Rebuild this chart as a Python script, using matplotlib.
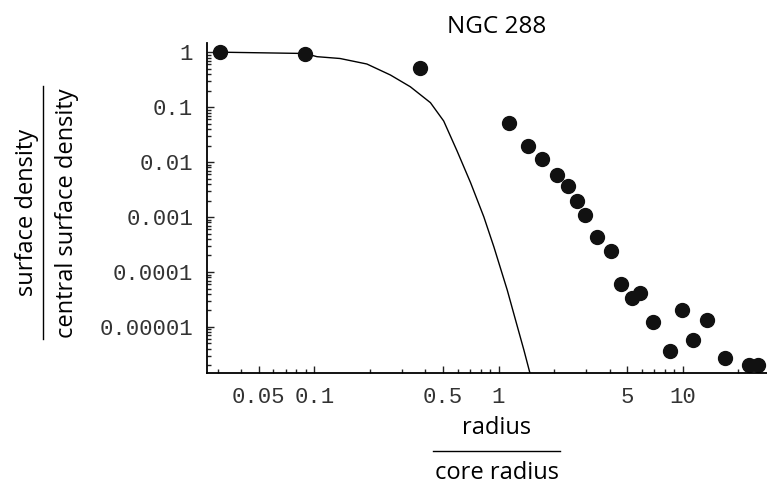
import numpy as np
import matplotlib
matplotlib.use("Agg")
import matplotlib.pyplot as plt
from matplotlib.lines import Line2D
from matplotlib.ticker import FixedLocator, FixedFormatter, NullFormatter

# measured profile of NGC 288 (radius / core radius, normalised surface density)
radius = [0.0308, 0.0893, 0.373, 1.14, 1.44, 1.73, 2.07, 2.39, 2.68, 2.94,
          3.40, 4.06, 4.64, 5.28, 5.84, 6.90, 8.50, 9.84, 11.4, 13.6,
          16.9, 22.9, 25.5]
density = [1.0, 0.95, 0.525, 0.0510, 0.0200, 0.0113, 0.00592, 0.00368, 0.00196, 0.00109,
           4.35e-4, 2.45e-4, 6.07e-5, 3.37e-5, 4.16e-5, 1.22e-5, 3.66e-6, 2.04e-5, 5.80e-6, 1.34e-5,
           2.76e-6, 2.03e-6, 2.03e-6]

# model curve
model_r = [0.0337, 0.0893, 0.1035, 0.138, 0.193, 0.259, 0.332, 0.427, 0.504, 0.596,
           0.705, 0.832, 0.943, 1.115, 1.237, 1.373, 1.479]
model_d = [1.0, 0.951, 0.832, 0.771, 0.612, 0.386, 0.236, 0.121, 0.0561, 0.0159,
           0.00423, 0.00101, 2.88e-4, 4.68e-5, 1.33e-5, 3.78e-6, 1.46e-6]

xticks = [0.05, 0.1, 0.5, 1, 5, 10]
xlabels = ["0.05", "0.1", "0.5", "1", "5", "10"]
yticks = [1, 0.1, 0.01, 0.001, 0.0001, 0.00001]
ylabels = ["1", "0.1", "0.01", "0.001", "0.0001", "0.00001"]

fig = plt.figure(figsize=(7.67, 4.87), dpi=100)
ax = fig.add_axes([207 / 767, 1 - 372.7 / 487, 560 / 767, (372.7 - 43) / 487])

ax.plot(model_r, model_d, color="black", lw=1.0)
ax.plot(radius, density, "o", color="#111111", ms=10, mec="#111111")

ax.set_xscale("log")
ax.set_yscale("log")
ax.set_xlim(0.0262, 28.6)
ax.set_ylim(1.47e-6, 1.476)

ax.xaxis.set_major_locator(FixedLocator(xticks))
ax.xaxis.set_major_formatter(FixedFormatter(xlabels))
xminor = [m * 10.0 ** e for e in range(-2, 2) for m in range(1, 10)]
xminor = [v for v in xminor if v not in xticks]
ax.xaxis.set_minor_locator(FixedLocator(xminor))
ax.xaxis.set_minor_formatter(NullFormatter())

ax.yaxis.set_major_locator(FixedLocator(yticks))
ax.yaxis.set_major_formatter(FixedFormatter(ylabels))
yminor = [m * 10.0 ** e for e in range(-6, 1) for m in range(2, 10)]
ax.yaxis.set_minor_locator(FixedLocator(yminor))
ax.yaxis.set_minor_formatter(NullFormatter())

for s in ["top", "right"]:
    ax.spines[s].set_visible(False)
for s in ["left", "bottom"]:
    ax.spines[s].set_linewidth(1.3)

ax.tick_params(which="both", direction="in", width=1.0, color="#222222")
ax.tick_params(which="major", length=5, pad=10)
ax.tick_params(which="minor", length=3)
for lab in ax.get_xticklabels() + ax.get_yticklabels():
    lab.set_family("Liberation Mono")
    lab.set_fontsize(16)
    lab.set_color("#333333")

font = "Open Sans"
fig.text(497 / 767, 1 - 27 / 487, "NGC 288", ha="center", va="center", family=font, fontsize=17.5)

# y label as a fraction
fig.text(27 / 767, 1 - 212 / 487, "surface density", rotation=90, ha="center", va="center",
         family=font, fontsize=17)
fig.add_artist(Line2D([43 / 767, 43 / 767], [1 - 86 / 487, 1 - 339 / 487], color="black", lw=1.0))
fig.text(67 / 767, 1 - 213 / 487, "central surface density", rotation=90, ha="center", va="center",
         family=font, fontsize=17)

# x label as a fraction
fig.text(497 / 767, 1 - 428 / 487, "radius", ha="center", va="center", family=font, fontsize=17)
fig.add_artist(Line2D([433 / 767, 560 / 767], [1 - 451 / 487, 1 - 451 / 487], color="black", lw=1.0))
fig.text(497 / 767, 1 - 473 / 487, "core radius", ha="center", va="center", family=font, fontsize=17)

fig.savefig("out.png", dpi=100)
